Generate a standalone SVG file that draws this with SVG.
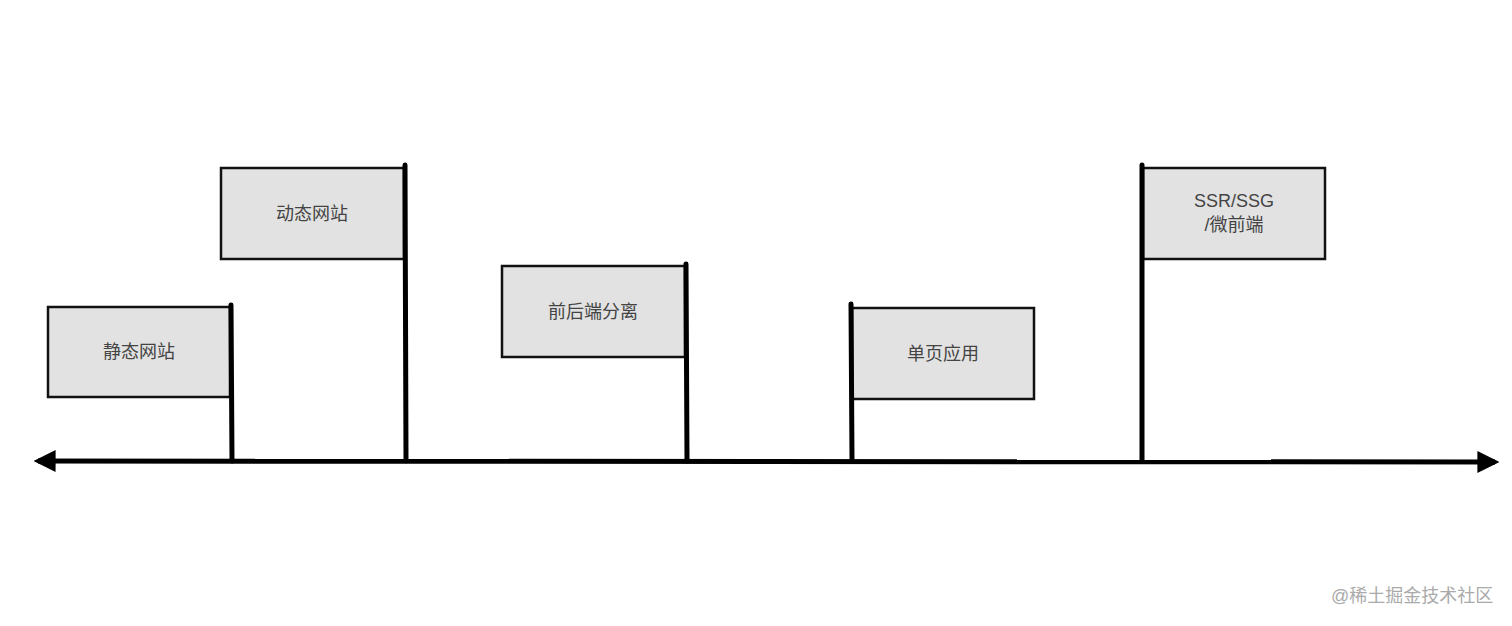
<svg xmlns="http://www.w3.org/2000/svg" width="1512" height="626" viewBox="0 0 1512 626">
<style>
.box{fill:#e2e2e2;stroke:#111;stroke-width:2.5}
.pole{stroke:#000;stroke-width:5;stroke-linecap:round}
.lbl{font-family:"Liberation Sans","Noto Sans CJK SC",sans-serif;font-size:18px;fill:#444;text-anchor:middle}
.wm{font-family:"Liberation Sans","Noto Sans CJK SC",sans-serif;font-size:18px;fill:#aaa}
</style>
<defs>
<marker id="ah" viewBox="0 0 10 10" refX="8" refY="5" markerWidth="4.4" markerHeight="4.4" orient="auto-start-reverse" markerUnits="strokeWidth">
<path d="M0,0 L10,5 L0,10 Z" fill="#000"/>
</marker>
</defs>
<rect width="1512" height="626" fill="#fff"/>
<g id="connectors">
<line x1="38" y1="461" x2="1495" y2="462" stroke="#000" stroke-width="5" marker-start="url(#ah)" marker-end="url(#ah)"/>
</g>
<g id="n1">
<rect class="box" x="48" y="307" width="182" height="90"/>
<line class="pole" x1="231" y1="305" x2="232" y2="461"/>
<text class="lbl" x="139" y="358">静态网站</text>
</g>
<g id="n2">
<rect class="box" x="221" y="168" width="183" height="91"/>
<line class="pole" x1="405" y1="165" x2="406" y2="461"/>
<text class="lbl" x="312" y="220">动态网站</text>
</g>
<g id="n3">
<rect class="box" x="502" y="266" width="183" height="91"/>
<line class="pole" x1="686" y1="264" x2="687" y2="461"/>
<text class="lbl" x="593" y="318">前后端分离</text>
</g>
<g id="n4">
<rect class="box" x="852" y="308" width="182" height="91"/>
<line class="pole" x1="851" y1="304" x2="852" y2="461"/>
<text class="lbl" x="943" y="360">单页应用</text>
</g>
<g id="n5">
<rect class="box" x="1143" y="168" width="182" height="91"/>
<line class="pole" x1="1142" y1="165" x2="1142" y2="461"/>
<text class="lbl" x="1234" y="207">SSR/SSG</text>
<text class="lbl" x="1234" y="231">/微前端</text>
</g>
<text class="wm" x="1331" y="602">@稀土掘金技术社区</text>
</svg>
